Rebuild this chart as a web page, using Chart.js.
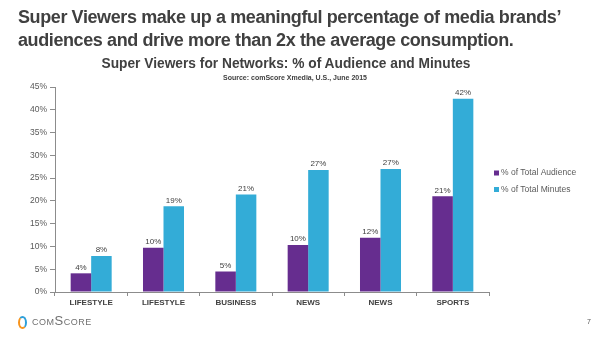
<!DOCTYPE html>
<html>
<head>
<meta charset="utf-8">
<script src="https://cdn.jsdelivr.net/npm/chart.js@4.4.0/dist/chart.umd.min.js"></script>
<style>
  html, body { margin: 0; padding: 0; background: #fff; }
  body { width: 600px; height: 337px; position: relative; overflow: hidden; font-family: "Liberation Sans", Arial, sans-serif; }
  #chartBox { position: absolute; left: 0; top: 0; width: 600px; height: 337px; }
  .txt { position: absolute; white-space: nowrap; color: #404040; }
  #headline { left: 18px; top: 6px; font-size: 18px; font-weight: bold; line-height: 23px; letter-spacing: -0.4px; }
  #title { left: 86px; width: 400px; top: 56px; text-align: center; font-size: 13.75px; font-weight: bold; }
  #subtitle { left: 95px; width: 400px; top: 74px; text-align: center; font-size: 7px; font-weight: bold; }
  #logoIcon { position: absolute; left: 18px; top: 316px; width: 5px; height: 9px; border-radius: 50%; border: 2px solid #2d9fd9; border-left-color: #f7941d; border-bottom-color: #f7941d; }
  #logoText { left: 32px; top: 313px; font-size: 13px; color: #707070; font-variant: small-caps; letter-spacing: 0.5px; }
  #pageNo { left: 587px; top: 318px; font-size: 7px; color: #555; }
</style>
</head>
<body>
<div id="chartBox"><canvas id="superViewers"></canvas></div>
<div class="txt" id="headline">Super Viewers make up a meaningful percentage of media brands’<br>audiences and drive more than 2x the average consumption.</div>
<div class="txt" id="title">Super Viewers for Networks: % of Audience and Minutes</div>
<div class="txt" id="subtitle">Source: comScore Xmedia, U.S., June 2015</div>
<div id="logoIcon"></div>
<div class="txt" id="logoText">comScore</div>
<div class="txt" id="pageNo">7</div>

<script>
var networks = ['LIFESTYLE', 'LIFESTYLE', 'BUSINESS', 'NEWS', 'NEWS', 'SPORTS'];
var audienceShare = [4.1, 9.7, 4.5, 10.3, 11.9, 21.0];
var minutesShare = [7.9, 18.8, 21.4, 26.8, 27.0, 42.4];
var audienceLabels = ['4%', '10%', '5%', '10%', '12%', '21%'];
var minutesLabels = ['8%', '19%', '21%', '27%', '27%', '42%'];
var seriesNames = ['% of Total Audience', '% of Total Minutes'];
var yTicks = [0, 5, 10, 15, 20, 25, 30, 35, 40, 45];

Chart.defaults.font.family = '"Liberation Sans", Arial, sans-serif';
Chart.defaults.color = '#595959';

// value labels above each bar
var barLabels = {
  id: 'barLabels',
  afterDatasetsDraw: function (chart) {
    var ctx = chart.ctx;
    ctx.save();
    ctx.font = '8px "Liberation Sans", Arial, sans-serif';
    ctx.fillStyle = '#404040';
    ctx.textAlign = 'center';
    ctx.textBaseline = 'bottom';
    chart.data.datasets.forEach(function (ds, i) {
      chart.getDatasetMeta(i).data.forEach(function (bar, j) {
        ctx.fillText(ds.valueLabels[j], bar.x, bar.y - 2);
      });
    });
    ctx.restore();
  }
};

// small legend to the right of the plot
var sideLegend = {
  id: 'sideLegend',
  afterDraw: function (chart) {
    var ctx = chart.ctx;
    var x = chart.chartArea.right + 5;
    var y = 173;
    ctx.save();
    ctx.font = '8.5px "Liberation Sans", Arial, sans-serif';
    ctx.textBaseline = 'middle';
    chart.data.datasets.forEach(function (ds, i) {
      ctx.fillStyle = ds.backgroundColor;
      ctx.fillRect(x, y + i * 16.5 - 2.5, 5, 5);
      ctx.fillStyle = '#595959';
      ctx.fillText(ds.label, x + 7, y + i * 16.5);
    });
    ctx.restore();
  }
};

var ctx = document.getElementById('superViewers').getContext('2d');
new Chart(ctx, {
  type: 'bar',
  data: {
    labels: networks,
    datasets: [{
      label: seriesNames[0],
      data: audienceShare,
      valueLabels: audienceLabels,
      backgroundColor: '#662d8f',
      categoryPercentage: 0.567,
      barPercentage: 1
    }, {
      label: seriesNames[1],
      data: minutesShare,
      valueLabels: minutesLabels,
      backgroundColor: '#33acd7',
      categoryPercentage: 0.567,
      barPercentage: 1
    }]
  },
  options: {
    responsive: true,
    maintainAspectRatio: false,
    animation: false,
    layout: {
      padding: { left: 15, right: 111, top: 87, bottom: 20 }
    },
    plugins: {
      legend: { display: false },
      tooltip: { enabled: false }
    },
    scales: {
      x: {
        grid: { offset: true, drawOnChartArea: false, tickLength: 4, color: '#8c8c8c' },
        border: { color: '#8c8c8c' },
        ticks: {
          padding: 2,
          color: '#404040',
          font: { size: 8, weight: 'bold' }
        },
        afterFit: function (scale) { scale.height = 25; }
      },
      y: {
        min: 0,
        max: 45,
        afterBuildTicks: function (scale) {
          scale.ticks = yTicks.map(function (v) { return { value: v }; });
        },
        grid: { drawOnChartArea: false, tickLength: 5, color: '#8c8c8c' },
        border: { color: '#8c8c8c' },
        ticks: {
          padding: 3,
          font: { size: 8.5 },
          callback: function (v) { return v + '%'; }
        },
        afterFit: function (scale) { scale.width = 40; }
      }
    }
  },
  plugins: [barLabels, sideLegend]
});
</script>
</body>
</html>
